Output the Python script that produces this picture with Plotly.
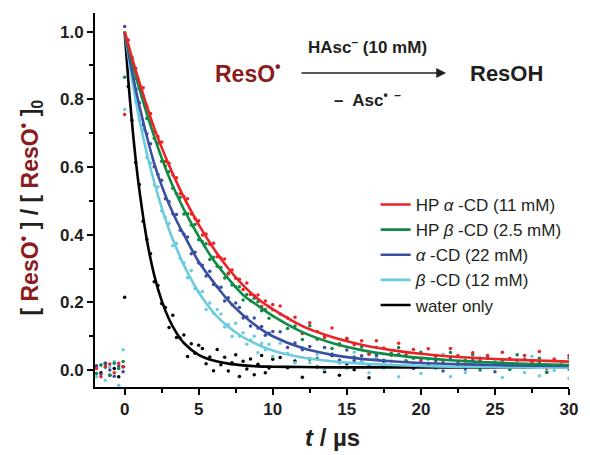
import plotly.graph_objects as go

# ---------------- data ----------------
series_names = ["HP <i>α</i> -CD (11 mM)", "HP <i>β</i> -CD (2.5 mM)", "<i>α</i> -CD (22 mM)",
                "<i>β</i> -CD (12 mM)", "water only"]
series_colors = ["#EC2227", "#0F8A45", "#3A4FA2", "#6CCBDC", "#000000"]

# measured points (time in µs)
t_data = [-1.9, -1.6, -1.3, -1.0, -0.7, -0.4, -0.1, 0.0,
          0.25, 0.5, 0.75, 1.0, 1.25, 1.5, 1.75, 2.0, 2.25, 2.5, 2.75, 3.0, 3.25, 3.5, 3.75, 4.0,
          4.25, 4.5, 4.75, 5.0, 5.25, 5.5, 5.75, 6.0, 6.25, 6.5, 6.75, 7.0, 7.25, 7.5, 7.75, 8.0,
          8.25, 8.5, 8.75, 9.0, 9.25, 9.5, 9.75, 10.0,
          10.5, 11, 11.5, 12, 12.5, 13, 13.5, 14, 14.5, 15, 15.5, 16, 16.5, 17, 17.5, 18, 18.5, 19,
          19.5, 20, 20.5, 21, 21.5, 22, 22.5, 23, 23.5, 24, 24.5, 25, 25.5, 26, 26.5, 27, 27.5, 28,
          28.5, 29, 29.5, 30]

y_hp_alpha = [0.005, -0.02, 0.012, 0.018, -0.008, 0.02, 0.01, 0.755,
              0.975, 0.917, 0.892, 0.835, 0.834, 0.780, 0.758, 0.704, 0.690, 0.674, 0.616, 0.611,
              0.576, 0.568, 0.521, 0.513, 0.506, 0.461, 0.448, 0.441, 0.399, 0.402, 0.372, 0.375,
              0.335, 0.331, 0.328, 0.284, 0.296, 0.271, 0.268, 0.238, 0.257, 0.223, 0.220, 0.222,
              0.188, 0.204, 0.187, 0.194,
              0.189, 0.154, 0.156, 0.108, 0.140, 0.114, 0.096, 0.124, 0.074, 0.094, 0.075, 0.087,
              0.047, 0.087, 0.065, 0.044, 0.079, 0.045, 0.061, 0.027, 0.063, 0.041, 0.029, 0.064,
              0.043, 0.018, 0.051, 0.028, 0.043, 0.008, 0.053, 0.034, 0.014, 0.043, 0.024, 0.055,
              0.005, 0.033, 0.014, 0.043]

y_hp_beta = [-0.01, 0.015, 0.008, -0.015, 0.02, 0.005, 0.025, 0.865,
             0.955, 0.924, 0.862, 0.832, 0.809, 0.743, 0.731, 0.685, 0.670, 0.617, 0.603, 0.586,
             0.537, 0.521, 0.510, 0.461, 0.462, 0.429, 0.430, 0.385, 0.379, 0.373, 0.327, 0.333,
             0.307, 0.303, 0.272, 0.287, 0.251, 0.246, 0.246, 0.207, 0.223, 0.205, 0.212, 0.202,
             0.175, 0.179, 0.153, 0.178,
             0.166, 0.123, 0.130, 0.090, 0.131, 0.091, 0.101, 0.064, 0.078, 0.091, 0.039, 0.068,
             0.048, 0.067, 0.029, 0.050, 0.067, 0.027, 0.035, 0.053, 0.013, 0.043, 0.022, 0.052,
             0.013, 0.028, 0.045, 0.000, 0.035, 0.016, 0.029, 0.002, 0.045, 0.008, 0.018, 0.035,
             -0.006, 0.030, 0.014, 0.036]

y_alpha = [0.01, -0.012, 0.02, 0.0, -0.018, 0.012, -0.005, 1.015,
           0.928, 0.896, 0.830, 0.790, 0.725, 0.698, 0.669, 0.601, 0.578, 0.561, 0.506, 0.497,
           0.462, 0.460, 0.413, 0.401, 0.393, 0.344, 0.348, 0.316, 0.310, 0.278, 0.292, 0.253,
           0.246, 0.245, 0.204, 0.214, 0.193, 0.198, 0.185, 0.154, 0.157, 0.130, 0.154, 0.124,
           0.129, 0.103, 0.109, 0.114,
           0.113, 0.067, 0.080, 0.060, 0.070, 0.034, 0.067, 0.046, 0.029, 0.059, 0.028, 0.042,
           0.013, 0.044, 0.025, 0.014, 0.046, 0.027, 0.005, 0.034, 0.014, 0.027, -0.003, 0.036,
           0.020, 0.003, 0.028, 0.012, 0.039, -0.005, 0.020, 0.004, 0.029, 0.032, 0.012, 0.025,
           -0.007, 0.028, 0.012, 0.003]

y_beta = [-0.02, 0.015, -0.03, 0.01, 0.025, -0.045, 0.06, 0.77,
          0.939, 0.892, 0.792, 0.737, 0.709, 0.628, 0.611, 0.547, 0.541, 0.471, 0.451, 0.433,
          0.367, 0.374, 0.330, 0.317, 0.273, 0.294, 0.240, 0.230, 0.232, 0.179, 0.198, 0.169,
          0.179, 0.166, 0.127, 0.134, 0.099, 0.138, 0.101, 0.110, 0.076, 0.089, 0.100, 0.051,
          0.079, 0.060, 0.076, 0.040,
          0.079, 0.050, 0.022, 0.067, 0.022, 0.046, 0.001, 0.048, 0.020, 0.005, 0.053, 0.025,
          -0.008, 0.037, 0.006, 0.027, -0.020, 0.042, 0.017, -0.010, 0.030, 0.005, 0.047, -0.020,
          0.018, -0.007, 0.033, 0.037, 0.007, 0.027, -0.022, 0.032, 0.008, -0.007, 0.041, -0.017,
          0.017, -0.001, 0.023, -0.025]

y_water = [0.012, -0.008, 0.02, -0.015, 0.005, -0.02, 0.01, 0.215,
           0.838, 0.738, 0.613, 0.548, 0.440, 0.386, 0.344, 0.261, 0.250, 0.197, 0.185, 0.126,
           0.162, 0.096, 0.094, 0.104, 0.040, 0.078, 0.050, 0.073, 0.064, 0.019, 0.039, -0.002,
           0.061, 0.016, 0.038, -0.003, 0.022, 0.045, -0.019, 0.026, 0.003, 0.033, -0.014, 0.017,
           0.043, -0.008, 0.006, 0.032,
           0.037, 0.007, 0.027, -0.021, 0.033, 0.009, -0.005, 0.043, -0.015, 0.019, 0.001, 0.025,
           -0.023, 0.035, 0.011, None, None, None, None, None, None, None, None, None,
           None, None, None, None, None, None, None, None, None, None, None, None,
           None, None, None, None]

# fitted curves
t_fit = [0, 0.25, 0.5, 0.75, 1, 1.5, 2, 2.5, 3, 3.5, 4, 5, 6, 7, 8, 9, 10, 12, 14, 16, 18, 20,
         22, 24, 26, 28, 30]
fit_hp_alpha = [1.0, 0.961, 0.922, 0.885, 0.85, 0.78, 0.715, 0.658, 0.605, 0.556, 0.51, 0.43, 0.36,
                0.30, 0.25, 0.21, 0.18, 0.13, 0.098, 0.075, 0.059, 0.048, 0.04, 0.035, 0.031, 0.028, 0.025]
fit_hp_beta = [1.0, 0.955, 0.911, 0.869, 0.83, 0.757, 0.69, 0.627, 0.57, 0.52, 0.475, 0.395, 0.325,
               0.27, 0.222, 0.19, 0.16, 0.112, 0.08, 0.059, 0.045, 0.036, 0.029, 0.024, 0.02, 0.017, 0.015]
fit_alpha = [1.0, 0.94, 0.882, 0.829, 0.78, 0.69, 0.61, 0.545, 0.49, 0.442, 0.40, 0.32, 0.26,
             0.205, 0.162, 0.127, 0.10, 0.065, 0.045, 0.033, 0.026, 0.021, 0.018, 0.016, 0.014, 0.013, 0.012]
fit_beta = [1.0, 0.928, 0.86, 0.797, 0.74, 0.64, 0.555, 0.48, 0.415, 0.36, 0.31, 0.23, 0.17,
            0.128, 0.097, 0.075, 0.058, 0.037, 0.026, 0.019, 0.015, 0.012, 0.01, 0.009, 0.008, 0.007, 0.007]
fit_water = [1.0, 0.855, 0.73, 0.62, 0.53, 0.385, 0.28, 0.205, 0.15, 0.11, 0.08, 0.045, 0.028,
             0.019, 0.014, 0.011, 0.01, 0.009, 0.008, 0.008, 0.008, 0.008, 0.008, 0.008, 0.008, 0.008, 0.008]

x_ticks = [0, 5, 10, 15, 20, 25, 30]
y_ticks = [0.0, 0.2, 0.4, 0.6, 0.8, 1.0]

data_sets = [y_hp_alpha, y_hp_beta, y_alpha, y_beta, y_water]
fit_sets = [fit_hp_alpha, fit_hp_beta, fit_alpha, fit_beta, fit_water]

# ---------------- figure ----------------
FONT = "Liberation Sans, Arial, Helvetica, sans-serif"
DARKRED = "#8A1C1E"
TXT = "#231F20"

fig = go.Figure()

for name, col, ys in reversed(list(zip(series_names, series_colors, data_sets))):
    fig.add_trace(go.Scatter(x=t_data, y=ys, mode="markers",
                             marker=dict(size=3.5, color=col, line=dict(width=0)),
                             showlegend=False, hoverinfo="skip"))

order = [4, 3, 2, 1, 0]
for i in order:
    fig.add_trace(go.Scatter(x=t_fit, y=fit_sets[i], mode="lines", name=series_names[i],
                             line=dict(color=series_colors[i], width=2.6, shape="spline", smoothing=0.8),
                             legendrank=i + 1))

axis_common = dict(showgrid=False, zeroline=False, showline=True, linecolor="#000", linewidth=2,
                   ticks="outside", ticklen=6, tickwidth=2, tickcolor="#000",
                   tickfont=dict(family=FONT, size=17, color=TXT, weight="bold"),
                   mirror=False)

fig.update_xaxes(range=[-2, 30], tickvals=x_ticks, ticktext=[str(v) for v in x_ticks],
                 minor=dict(ticks="outside", ticklen=4, tickwidth=1.5, tickcolor="#000", dtick=2.5,
                            tick0=0),
                 **axis_common)
fig.update_yaxes(range=[-0.05, 1.055], tickvals=y_ticks, ticktext=[f"{v:.1f}" for v in y_ticks],
                 minor=dict(ticks="outside", ticklen=4, tickwidth=1.5, tickcolor="#000", dtick=0.1,
                            tick0=0),
                 **axis_common)

def px_x(px):
    return (px - 95) / 478.0

def px_y(py):
    return (387 - py) / 374.0

ann = []
ann.append(dict(xref="paper", yref="paper", x=px_x(29), y=px_y(208), textangle=-90,
                showarrow=False, xanchor="center", yanchor="middle",
                text=(f"<b>[ <span style='color:{DARKRED}'>ResO<sup>•</sup></span> ] / "
                      f"[ <span style='color:{DARKRED}'>ResO<sup>•</sup></span> ]<sub>0</sub></b>"),
                font=dict(family=FONT, size=23, color=TXT)))
ann.append(dict(xref="paper", yref="paper", x=px_x(334), y=px_y(438), showarrow=False,
                xanchor="center", yanchor="middle",
                text="<b><i>t</i> / µs</b>", font=dict(family=FONT, size=24, color=TXT)))
ann.append(dict(xref="paper", yref="paper", x=px_x(249), y=px_y(72), showarrow=False,
                xanchor="center", yanchor="middle",
                text="<b>ResO<sup>•</sup></b>", font=dict(family=FONT, size=23, color=DARKRED)))
ann.append(dict(xref="paper", yref="paper", x=px_x(510), y=px_y(73), showarrow=False,
                xanchor="center", yanchor="middle",
                text="<b>ResOH</b>", font=dict(family=FONT, size=22, color=TXT)))
ann.append(dict(xref="paper", yref="paper", x=px_x(370), y=px_y(46), showarrow=False,
                xanchor="center", yanchor="middle",
                text="<b>HAsc<sup>–</sup> (10 mM)</b>", font=dict(family=FONT, size=17, color=TXT)))
ann.append(dict(xref="paper", yref="paper", x=px_x(370), y=px_y(99), showarrow=False,
                xanchor="center", yanchor="middle",
                text="<b>–  Asc<sup>•  –</sup></b>", font=dict(family=FONT, size=17, color=TXT)))
ann.append(dict(xref="paper", yref="paper", x=px_x(449), y=px_y(73), ax=-146, ay=0,
                axref="pixel", ayref="pixel", showarrow=True, arrowhead=2, arrowsize=1.4,
                arrowwidth=1.4, arrowcolor=TXT, text=""))

fig.update_layout(
    width=590, height=455,
    margin=dict(l=95, r=17, t=13, b=68),
    paper_bgcolor="white", plot_bgcolor="white",
    annotations=ann,
    showlegend=True,
    legend=dict(x=px_x(378), y=px_y(187), xanchor="left", yanchor="top",
                bgcolor="rgba(0,0,0,0)", borderwidth=0,
                font=dict(family=FONT, size=17, color=TXT),
                itemwidth=30, tracegroupgap=0),
)

fig.write_html("out.html", config={"displayModeBar": False},
               post_script="document.body.style.margin='0px';document.body.style.padding='0px';")
